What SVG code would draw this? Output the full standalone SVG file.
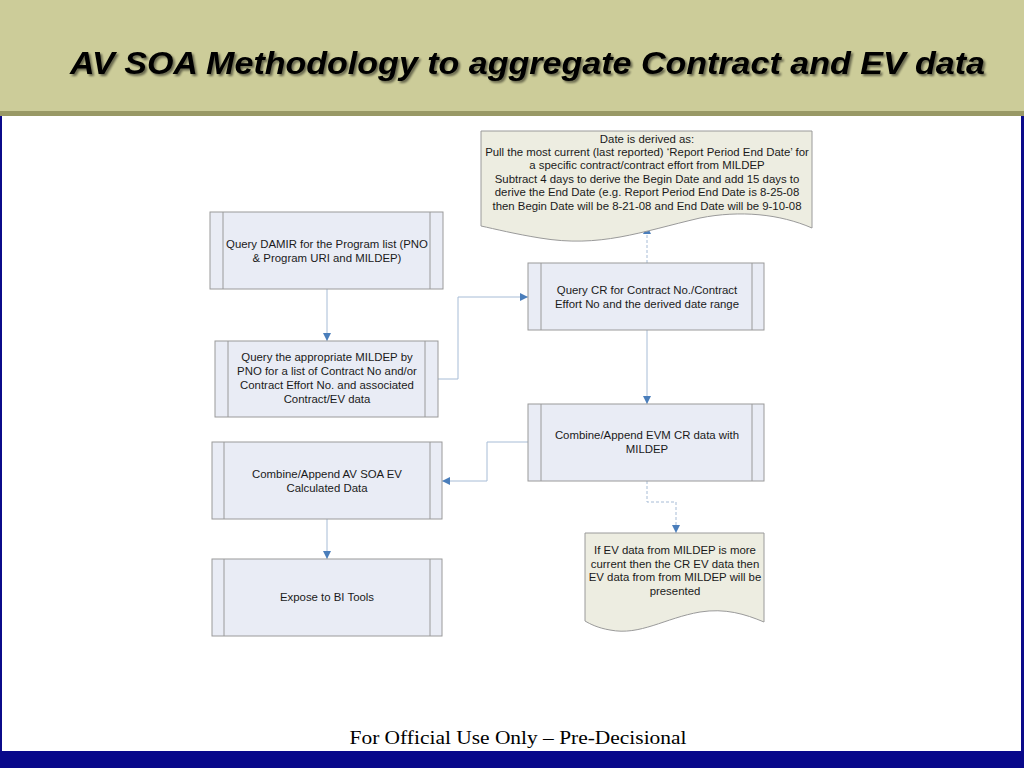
<svg xmlns="http://www.w3.org/2000/svg" width="1024" height="768" viewBox="0 0 1024 768">
<defs>
<style>
.box{fill:#E9ECF5;stroke:#9A9A9A;stroke-width:1}
.inner{stroke:#9A9A9A;stroke-width:1}
.doc{fill:#EDEDE1;stroke:#9A9A9A;stroke-width:1}
.t{font-family:"Liberation Sans",Arial,sans-serif;font-size:11.4px;fill:#1a1a1a;text-anchor:middle}
.c{fill:none;stroke:#A7BCD6;stroke-width:1}
.d{fill:none;stroke:#A7BCD6;stroke-width:1;stroke-dasharray:3 2}
</style>
<marker id="ah" viewBox="0 0 10 10" refX="10" refY="5" markerWidth="8" markerHeight="8" markerUnits="userSpaceOnUse" orient="auto">
<path d="M0,0 L10,5 L0,10 Z" fill="#4A7EBB"/>
</marker>
<filter id="sh" x="-5%" y="-20%" width="110%" height="140%">
<feGaussianBlur in="SourceAlpha" stdDeviation="1"/>
<feOffset dx="2" dy="2" result="o"/>
<feComponentTransfer><feFuncA type="linear" slope="0.5"/></feComponentTransfer>
<feMerge><feMergeNode/><feMergeNode in="SourceGraphic"/></feMerge>
</filter>
</defs>
<rect x="0" y="0" width="1024" height="768" fill="#FFFFFF"/>
<rect x="0" y="0" width="1024" height="111" fill="#CCCC99"/>
<rect x="0" y="111" width="1024" height="5" fill="#999966"/>
<rect x="0" y="116" width="2" height="636" fill="#0B0B8A"/>
<rect x="1021" y="116" width="3" height="636" fill="#0B0B8A"/>
<rect x="0" y="751" width="1024" height="17" fill="#08088A"/>
<text x="70" y="74" font-family="'Liberation Sans',Arial,sans-serif" font-size="31" font-weight="bold" font-style="italic" fill="#000" textLength="915" lengthAdjust="spacingAndGlyphs" filter="url(#sh)">AV SOA Methodology to aggregate Contract and EV data</text>
<text x="518" y="744" font-family="'Liberation Serif','Times New Roman',serif" font-size="19" fill="#000" text-anchor="middle" textLength="337" lengthAdjust="spacingAndGlyphs">For Official Use Only – Pre-Decisional</text>

<g id="connectors">
<path class="c" d="M327,289 L327,341" marker-end="url(#ah)"/>
<path class="c" d="M438,379 L458,379 L458,297 L528,297" marker-end="url(#ah)"/>
<path class="d" d="M647,263 L647,226" marker-end="url(#ah)"/>
<path class="c" d="M647,330 L647,404" marker-end="url(#ah)"/>
<path class="c" d="M528,442 L487,442 L487,481 L442,481" marker-end="url(#ah)"/>
<path class="d" d="M647,481 L647,502 L676,502 L676,533" marker-end="url(#ah)"/>
<path class="c" d="M327,519 L327,559" marker-end="url(#ah)"/>
</g>

<g id="doc-date">
<path class="doc" d="M481,131 L812,131 L812,228 C780,214 740,210 700,218 C640,232 600,248 540,238 C515,234 495,229 481,226 Z"/>
<text class="t" x="647" y="143">Date is derived as:</text>
<text class="t" x="647" y="156">Pull the most current (last reported) ‘Report Period End Date’ for</text>
<text class="t" x="647" y="169">a specific contract/contract effort from MILDEP</text>
<text class="t" x="647" y="183">Subtract 4 days to derive the Begin Date and add 15 days to</text>
<text class="t" x="647" y="196">derive the End Date (e.g. Report Period End Date is 8-25-08</text>
<text class="t" x="647" y="210">then Begin Date will be 8-21-08 and End Date will be 9-10-08</text>
</g>

<g id="box-damir">
<rect class="box" x="210" y="212" width="233" height="77"/>
<line class="inner" x1="223" y1="212" x2="223" y2="289"/>
<line class="inner" x1="430" y1="212" x2="430" y2="289"/>
<text class="t" x="327" y="248">Query DAMIR for the Program list (PNO</text>
<text class="t" x="327" y="262">&amp; Program URI and MILDEP)</text>
</g>

<g id="box-mildep">
<rect class="box" x="215" y="341" width="223" height="76"/>
<line class="inner" x1="228" y1="341" x2="228" y2="417"/>
<line class="inner" x1="425" y1="341" x2="425" y2="417"/>
<text class="t" x="327" y="361">Query the appropriate MILDEP by</text>
<text class="t" x="327" y="375">PNO for a list of Contract No and/or</text>
<text class="t" x="327" y="389">Contract Effort No. and associated</text>
<text class="t" x="327" y="403">Contract/EV data</text>
</g>

<g id="box-cr">
<rect class="box" x="528" y="263" width="236" height="67"/>
<line class="inner" x1="541" y1="263" x2="541" y2="330"/>
<line class="inner" x1="752" y1="263" x2="752" y2="330"/>
<text class="t" x="647" y="294">Query CR for Contract No./Contract</text>
<text class="t" x="647" y="308">Effort No and the derived date range</text>
</g>

<g id="box-evm">
<rect class="box" x="528" y="404" width="236" height="77"/>
<line class="inner" x1="541" y1="404" x2="541" y2="481"/>
<line class="inner" x1="752" y1="404" x2="752" y2="481"/>
<text class="t" x="647" y="439">Combine/Append EVM CR data with</text>
<text class="t" x="647" y="453">MILDEP</text>
</g>

<g id="box-avsoa">
<rect class="box" x="212" y="442" width="230" height="77"/>
<line class="inner" x1="224" y1="442" x2="224" y2="519"/>
<line class="inner" x1="430" y1="442" x2="430" y2="519"/>
<text class="t" x="327" y="478">Combine/Append AV SOA EV</text>
<text class="t" x="327" y="492">Calculated Data</text>
</g>

<g id="box-bi">
<rect class="box" x="212" y="559" width="230" height="77"/>
<line class="inner" x1="224" y1="559" x2="224" y2="636"/>
<line class="inner" x1="430" y1="559" x2="430" y2="636"/>
<text class="t" x="327" y="601">Expose to BI Tools</text>
</g>

<g id="doc-ev">
<path class="doc" d="M585,533 L764,533 L764,622 C745,614 725,608 700,612 C665,618 640,636 610,630 C598,628 590,624 585,621 Z"/>
<text class="t" x="675" y="554">If EV data from MILDEP is more</text>
<text class="t" x="675" y="568">current then the CR EV data then</text>
<text class="t" x="675" y="581">EV data from from MILDEP will be</text>
<text class="t" x="675" y="595">presented</text>
</g>
</svg>
